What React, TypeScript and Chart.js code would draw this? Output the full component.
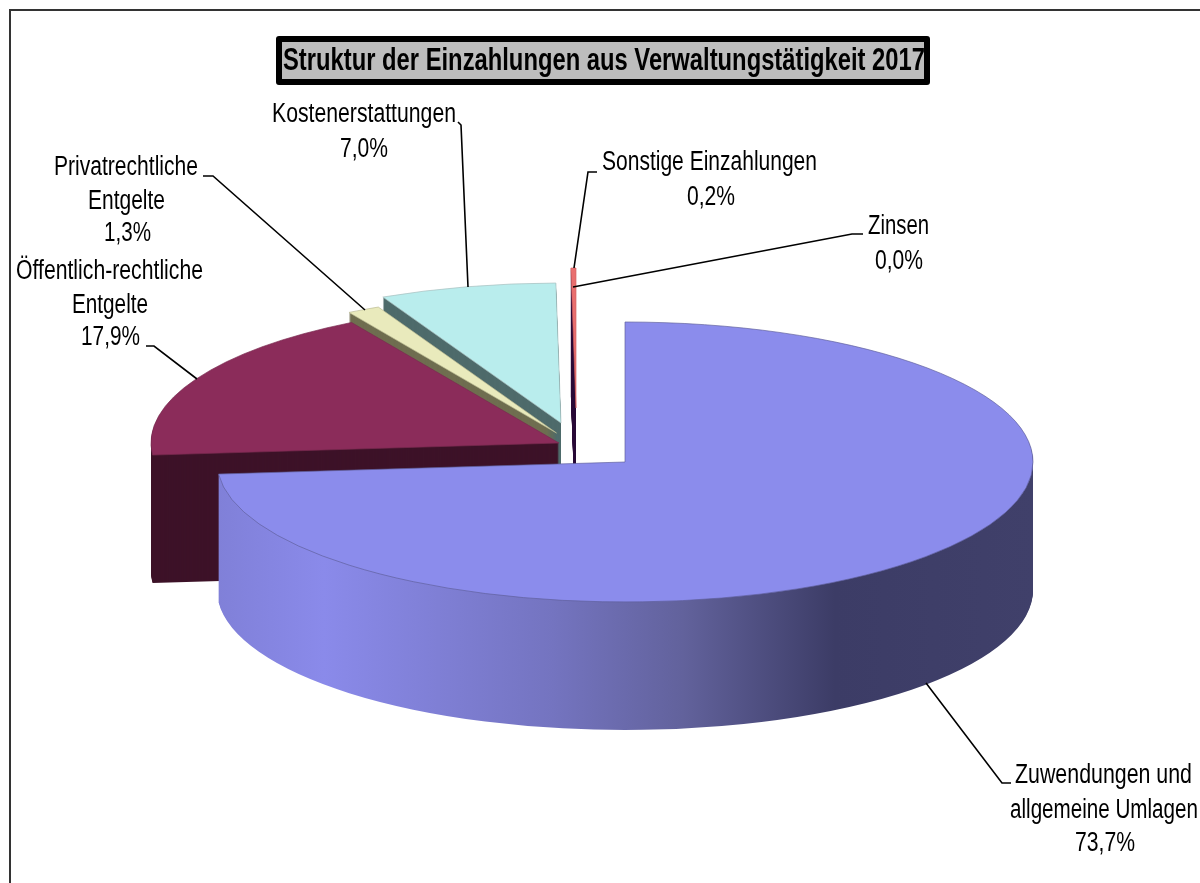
import React, { useEffect, useRef } from "react";
import { Chart, registerables } from "chart.js";

Chart.register(...registerables);

const categories = [
  "Zuwendungen und allgemeine Umlagen",
  "Öffentlich-rechtliche Entgelte",
  "Privatrechtliche Entgelte",
  "Kostenerstattungen",
  "Sonstige Einzahlungen",
  "Zinsen",
];
const values = [73.7, 17.9, 1.3, 7.0, 0.2, 0.0];
const topColors = ["#8B8CEC", "#8B2C5A", "#E9EABC", "#B9EDED", "#E96F6F", "#7F7F7F"];
const wallColors = ["#8B8CEC", "#3D1228", "#6F6E50", "#4E6B6B", "#2E0F3A", "#444444"];
const edgeColors = ["#5F5F9A", "#7A2A50", "#B8B890", "#A8BDBD", "#D06060", "#777777"];
const titleText = "Struktur der Einzahlungen aus Verwaltungstätigkeit 2017";

const RADIUS = 408;
const SQUASH = 140 / 408;
const DEPTH = 128;
const anchors = [
  { x: 625, y: 462 },
  { x: 559, y: 443 },
  { x: 556.5, y: 433 },
  { x: 561, y: 423 },
  { x: 576, y: 408 },
  { x: 578, y: 408 },
];
const drawOrder = [5, 4, 3, 2, 1, 0];

const labelRows = [
  [
    { t: "Zuwendungen und", x: 1103.5, y: 775, w: 177 },
    { t: "allgemeine Umlagen", x: 1104, y: 810, w: 188 },
    { t: "73,7%", x: 1105, y: 843, w: 60 },
  ],
  [
    { t: "Öffentlich-rechtliche", x: 109.5, y: 271, w: 187 },
    { t: "Entgelte", x: 110, y: 305, w: 76 },
    { t: "17,9%", x: 110.5, y: 337, w: 59 },
  ],
  [
    { t: "Privatrechtliche", x: 126, y: 167, w: 144 },
    { t: "Entgelte", x: 126.5, y: 201, w: 77 },
    { t: "1,3%", x: 127.5, y: 233, w: 47 },
  ],
  [
    { t: "Kostenerstattungen", x: 364, y: 114, w: 184 },
    { t: "7,0%", x: 364, y: 149, w: 48 },
  ],
  [
    { t: "Sonstige Einzahlungen", x: 709.5, y: 162, w: 215 },
    { t: "0,2%", x: 711, y: 197, w: 48 },
  ],
  [
    { t: "Zinsen", x: 898.5, y: 226, w: 61 },
    { t: "0,0%", x: 899, y: 261, w: 48 },
  ],
];
const leaderLines = [
  [[1011, 783], [1002, 783], [926, 683]],
  [[146, 346], [154, 346], [197, 379]],
  [[203, 176], [213, 176], [365, 310]],
  [[458, 122], [461, 125], [468, 287]],
  [[597, 172], [588, 172], [574, 268]],
  [[863, 234], [852, 234], [573, 287]],
];

const piePlugin = {
  id: "piePlugin",
  beforeDraw(chart: any) {
    const ctx = chart.ctx;
    ctx.save();
    ctx.fillStyle = "#FFFFFF";
    ctx.fillRect(0, 0, chart.width, chart.height);
    ctx.strokeStyle = "#333333";
    ctx.lineWidth = 2;
    ctx.strokeRect(10, 10, chart.width + 20, chart.height + 20);
    ctx.restore();
  },
  beforeDatasetsDraw(chart: any) {
    const ctx = chart.ctx;
    const arcs = chart.getDatasetMeta(0).data;
    for (const i of drawOrder) {
      const el = arcs[i];
      const a = anchors[i];
      if (!el || el.circumference === 0) continue;
      const base = el.options;
      let wall: any = wallColors[i];
      if (i === 0) {
        const dx = el.x - a.x;
        const g = ctx.createLinearGradient(218 + dx, 0, 1033 + dx, 0);
        g.addColorStop(0, "#8080D8");
        g.addColorStop(0.13, "#8A8AEA");
        g.addColorStop(0.41, "#7474C0");
        g.addColorStop(0.57, "#62629C");
        g.addColorStop(0.757, "#3C3C66");
        g.addColorStop(1, "#40406A");
        wall = g;
      }
      el.options = { ...base, backgroundColor: wall, borderWidth: 0 };
      for (let d = DEPTH; d > 0; d--) {
        ctx.save();
        ctx.translate(a.x, a.y + d);
        ctx.scale(1, SQUASH);
        ctx.translate(-el.x, -el.y);
        el.draw(ctx);
        ctx.restore();
      }
      el.options = base;
      ctx.save();
      ctx.translate(a.x, a.y);
      ctx.scale(1, SQUASH);
      ctx.translate(-el.x, -el.y);
      el.draw(ctx);
      ctx.restore();
    }
    return false;
  },
  afterDraw(chart: any) {
    const ctx = chart.ctx;
    ctx.save();
    ctx.fillStyle = "#BDBDBD";
    ctx.strokeStyle = "#000000";
    ctx.lineWidth = 6;
    ctx.lineJoin = "round";
    ctx.beginPath();
    ctx.rect(279, 39, 648, 43);
    ctx.fill();
    ctx.stroke();
    ctx.fillStyle = "#000000";
    ctx.textAlign = "center";
    ctx.textBaseline = "middle";
    ctx.font = "bold 31px 'Liberation Sans'";
    ctx.fillText(titleText, 604, 61, 642);

    ctx.strokeStyle = "#000000";
    ctx.lineWidth = 1.6;
    ctx.lineJoin = "miter";
    for (const line of leaderLines) {
      ctx.beginPath();
      line.forEach((p, i) => (i ? ctx.lineTo(p[0], p[1]) : ctx.moveTo(p[0], p[1])));
      ctx.stroke();
    }
    ctx.font = "27px 'Liberation Sans'";
    for (const rows of labelRows) {
      for (const r of rows) ctx.fillText(r.t, r.x, r.y + 1, r.w);
    }
    ctx.restore();
  },
};

export default function App() {
  const ref = useRef<HTMLCanvasElement>(null);
  useEffect(() => {
    const chart = new Chart(ref.current as HTMLCanvasElement, {
      type: "pie",
      data: {
        labels: categories,
        datasets: [
          {
            data: values,
            backgroundColor: topColors,
            borderColor: edgeColors,
            borderWidth: 1,
            radius: RADIUS,
          } as any,
        ],
      },
      options: {
        responsive: false,
        maintainAspectRatio: false,
        animation: false,
        events: [],
        plugins: { legend: { display: false }, tooltip: { enabled: false }, title: { display: false } },
      },
      plugins: [piePlugin],
    } as any);
    return () => chart.destroy();
  }, []);
  return (
    <div style={{ position: "fixed", left: 0, top: 0, width: 1200, height: 883 }}>
      <canvas ref={ref} width={1200} height={883} style={{ display: "block" }} />
    </div>
  );
}
